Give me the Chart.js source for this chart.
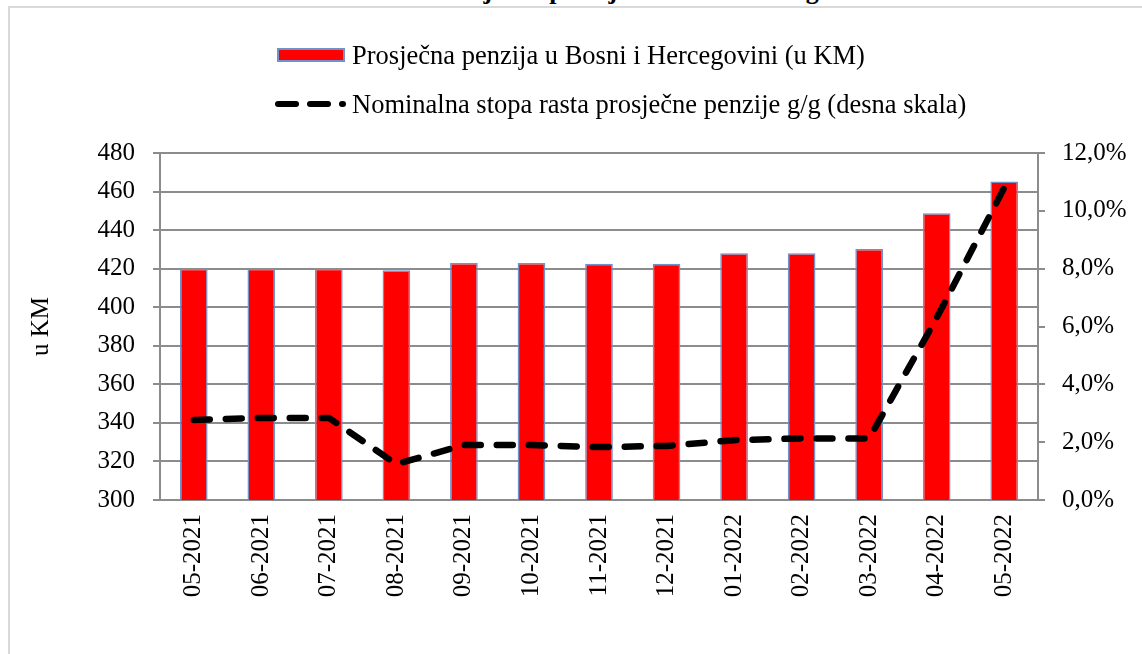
<!DOCTYPE html>
<html lang="bs">
<head>
  <meta charset="UTF-8">
  <title>Prosječna penzija u Bosni i Hercegovini</title>
  <script src="https://cdn.jsdelivr.net/npm/chart.js"></script>
  <style>
    body { margin: 0; width: 1142px; height: 654px; overflow: hidden; background: #fff; position: relative;
           font-family: "Liberation Serif", "Times New Roman", serif; }
    #frame { position: absolute; left: 8px; top: 6px; width: 1200px; height: 700px; border: 2px solid #d9d9d9; }
    #naslov { position: absolute; left: 0; width: 1170px; top: -22px; text-align: center; font-weight: bold; font-size: 26px; line-height: 26px; }
    #wrap { position: absolute; left: 0; top: 0; width: 1142px; height: 654px; }
    .leg { position: absolute; left: 272px; font-size: 26.5px; line-height: 28px; white-space: nowrap; }
    .leg span { position: absolute; left: 80px; top: 0; }
    .box { position: absolute; left: 5px; top: 7px; width: 64px; height: 10px; background: #ff0000; border: 2px solid #6f92cc; }
  </style>
</head>
<body>
  <div id="frame"></div>
  <div id="naslov">Grafikon 7: Prosječna penzija u Bosni i Hercegovini</div>
  <div id="wrap"><canvas id="grafikon" width="1142" height="654"></canvas></div>

  <!-- legenda -->
  <div class="leg" style="top:41px"><div class="box"></div><span>Prosječna penzija u Bosni i Hercegovini (u KM)</span></div>
  <div class="leg" style="top:90px">
    <svg width="80" height="28" style="position:absolute;left:0;top:0">
      <line x1="6" y1="14" x2="71" y2="14" stroke="#000" stroke-width="6" stroke-linecap="round" stroke-dasharray="18 14"/>
    </svg>
    <span>Nominalna stopa rasta prosječne penzije g/g (desna skala)</span>
  </div>

  <script>
    const mjeseci = ['05-2021','06-2021','07-2021','08-2021','09-2021','10-2021','11-2021','12-2021','01-2022','02-2022','03-2022','04-2022','05-2022'];
    const penzija = [420, 420, 420, 419.2, 423, 423, 422.5, 422.5, 428, 428, 430.2, 448.7, 465.2];
    const stopaRasta = [2.77, 2.84, 2.84, 1.24, 1.9, 1.9, 1.83, 1.87, 2.07, 2.13, 2.13, 6.3, 10.8];

    const font = { family: '"Liberation Serif", "Times New Roman", serif', size: 25 };
    const siva = '#8c8c8c';

    new Chart(document.getElementById('grafikon'), {
      type: 'bar',
      data: {
        labels: mjeseci,
        datasets: [
          {
            type: 'line', label: 'Nominalna stopa rasta prosječne penzije g/g (desna skala)',
            data: stopaRasta, yAxisID: 'y1', order: 0,
            borderColor: '#000', borderWidth: 6.5, borderDash: [16, 16], borderCapStyle: 'round', borderJoinStyle: 'round',
            pointRadius: 0, tension: 0, fill: false
          },
          {
            label: 'Prosječna penzija u Bosni i Hercegovini (u KM)',
            data: penzija, yAxisID: 'y', order: 1,
            backgroundColor: '#ff0000', borderColor: '#6f92cc', borderWidth: 1.5,
            barPercentage: 0.41, categoryPercentage: 1
          }
        ]
      },
      options: {
        responsive: false, animation: false,
        devicePixelRatio: 1,
        layout: { padding: { top: 153, left: 0, right: 0, bottom: 0 } },
        plugins: { legend: { display: false }, tooltip: { enabled: false } },
        scales: {
          x: {
            grid: { display: false, drawTicks: false },
            border: { display: true, color: siva, width: 2 },
            ticks: { color: '#000', font: font, minRotation: 90, maxRotation: 90, autoSkip: false, padding: 14 },
            afterFit: s => { s.height = 154; }
          },
          y: {
            position: 'left', min: 300, max: 480,
            ticks: { stepSize: 20, color: '#000', font: font, padding: 18 },
            grid: { color: siva, lineWidth: 2, tickLength: 7 },
            border: { display: true, color: siva, width: 2 },
            title: { display: true, text: 'u KM', color: '#000', font: font, padding: { top: 26, bottom: 0 } },
            afterFit: s => { s.width = 160; }
          },
          y1: {
            position: 'right', min: 0, max: 12,
            ticks: { stepSize: 2, color: '#000', font: font, padding: 17,
                     callback: v => v.toFixed(1).replace('.', ',') + '%' },
            grid: { drawOnChartArea: false, color: siva, lineWidth: 2, tickLength: 7 },
            border: { display: true, color: siva, width: 2 },
            afterFit: s => { s.width = 104; }
          }
        }
      }
    });
  </script>
</body>
</html>
